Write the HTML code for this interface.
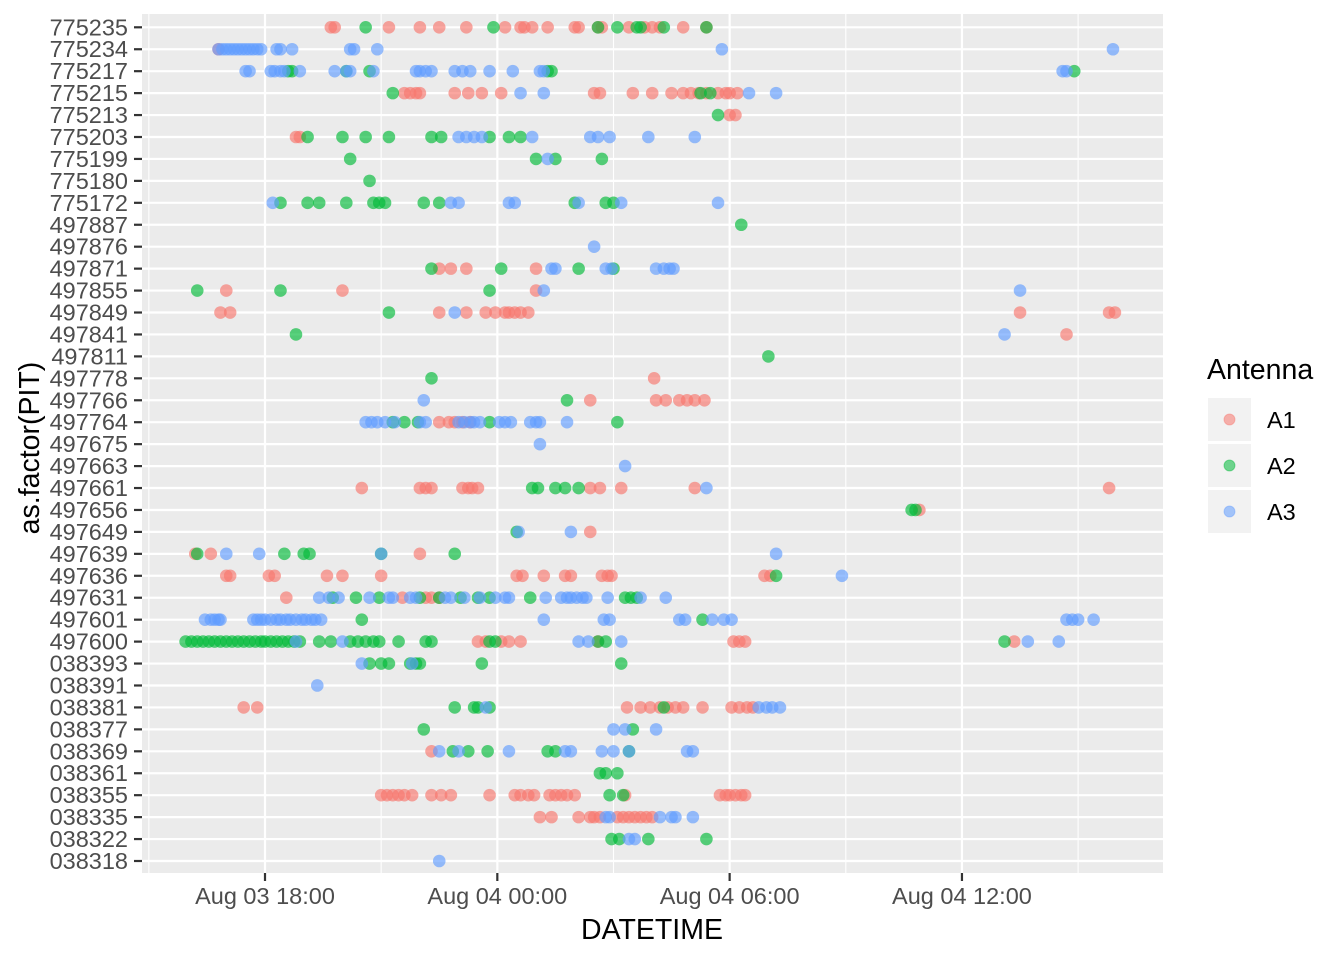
<!DOCTYPE html>
<html><head><meta charset="utf-8"><style>
html,body{margin:0;padding:0;background:#fff;}
svg{display:block;font-family:"Liberation Sans",Arial,sans-serif;}
</style></head><body>
<svg id="chart" width="1344" height="960" viewBox="0 0 1344 960" xmlns="http://www.w3.org/2000/svg">
<rect x="142" y="14" width="1021" height="859" fill="#EBEBEB"/>
<g id="grid"></g>
<g id="points"></g>
<g id="yaxis"></g>
<g id="xaxis"></g>
<text x="652" y="939" font-size="28.5" text-anchor="middle" fill="#000">DATETIME</text>
<text transform="translate(39,448) rotate(-90)" font-size="28.5" text-anchor="middle" fill="#000">as.factor(PIT)</text>
<g>
<text x="1207" y="379" font-size="28.5" fill="#000">Antenna</text>
<g><rect x="1208" y="398" width="43" height="43" fill="#F2F2F2"/><circle cx="1229.5" cy="419.5" r="5.5" fill="#F8766D" fill-opacity="0.55" stroke="#F8766D" stroke-opacity="0.4"/><text x="1267" y="428" font-size="23.5" fill="#000">A1</text></g>
<g><rect x="1208" y="444" width="43" height="43" fill="#F2F2F2"/><circle cx="1229.5" cy="465.5" r="5.5" fill="#00BA38" fill-opacity="0.55" stroke="#00BA38" stroke-opacity="0.4"/><text x="1267" y="474" font-size="23.5" fill="#000">A2</text></g>
<g><rect x="1208" y="490" width="43" height="43" fill="#F2F2F2"/><circle cx="1229.5" cy="511.5" r="5.5" fill="#619CFF" fill-opacity="0.55" stroke="#619CFF" stroke-opacity="0.4"/><text x="1267" y="520" font-size="23.5" fill="#000">A3</text></g>
</g>
</svg>
<script>
// Categories (top to bottom)
const pits = ["775235","775234","775217","775215","775213","775203","775199","775180","775172","497887","497876","497871","497855","497849","497841","497811","497778","497766","497764","497675","497663","497661","497656","497649","497639","497636","497631","497601","497600","038393","038391","038381","038377","038369","038361","038355","038335","038322","038318"];
// detection times: hours since Aug 03 18:00, per antenna, per PIT
const a1Times = {
"775235":[1.7,1.8,3.2,4.0,4.5,5.2,6.2,6.6,6.7,6.9,7.3,8.0,8.1,8.6,8.7,9.4,9.8,10.0,10.2,10.8,11.4],
"775234":[-1.2],
"775215":[3.6,3.75,3.9,4.0,4.9,5.25,5.6,6.1,8.5,8.65,9.5,10.0,10.5,10.8,11.0,11.2,11.4,11.7,11.9,12.0,12.2],
"775213":[12.0,12.15],
"775203":[0.8,0.9],
"497871":[4.5,4.8,5.2,7.0],
"497855":[-1.0,2.0,7.0],
"497849":[-1.15,-0.9,4.5,5.2,5.7,5.95,6.2,6.3,6.45,6.6,6.8,19.5,21.8,21.95],
"497841":[20.7],
"497778":[10.05],
"497766":[8.4,10.1,10.35,10.7,10.9,11.1,11.35],
"497764":[4.5,4.75,4.9,5.1,5.3],
"497661":[2.5,4.0,4.15,4.3,5.1,5.25,5.35,5.5,8.4,8.65,9.2,11.1,21.8],
"497656":[16.9],
"497649":[8.4],
"497639":[-1.8,-1.4,4.0],
"497636":[-1.0,-0.9,0.1,0.25,1.6,2.0,3.0,6.5,6.65,7.2,7.75,7.9,8.7,8.85,8.95,12.9,13.05],
"497631":[0.55,3.55,4.15,4.3,4.5],
"497600":[5.5,5.7,6.1,6.3,6.6,8.6,12.1,12.25,12.4,19.35],
"038381":[-0.55,-0.2,9.35,9.7,9.95,10.2,10.4,10.6,10.8,11.3,12.05,12.25,12.45,12.6],
"038369":[4.3],
"038355":[3.0,3.15,3.3,3.45,3.6,3.8,4.3,4.55,4.8,5.8,6.45,6.6,6.8,6.95,7.35,7.5,7.65,7.8,8.0,9.3,11.75,11.9,12.0,12.15,12.3,12.4],
"038335":[7.1,7.4,8.1,8.4,8.5,8.65,9.1,9.25,9.4,9.55,9.7,9.85,10.0]
};
const a2Times = {
"775235":[2.6,5.9,8.6,9.1,9.6,9.7,10.3,11.4],
"775217":[0.6,0.7,2.1,2.7,7.3,7.4,20.9],
"775215":[3.3,11.25,11.5],
"775213":[11.7],
"775203":[1.1,2.0,2.6,3.2,4.3,4.55,5.8,6.3,6.6],
"775199":[2.2,7.0,7.5,8.7],
"775180":[2.7],
"775172":[0.4,1.1,1.4,2.1,2.8,2.95,3.1,4.1,4.5,8.0,8.8,9.0],
"497887":[12.3],
"497871":[4.3,6.1,8.1,9.0],
"497855":[-1.75,0.4,5.8],
"497849":[3.2],
"497841":[0.8],
"497811":[13.0],
"497778":[4.3],
"497766":[7.8],
"497764":[3.3,3.6,3.95,5.8,9.1],
"497661":[6.9,7.05,7.5,7.75,8.1],
"497656":[16.7,16.8],
"497649":[6.5],
"497639":[-1.75,0.5,1.0,1.15,3.0,4.9],
"497636":[13.2],
"497631":[1.75,2.35,2.95,4.0,4.5,5.05,5.5,5.8,6.85,9.3,9.45,9.6],
"497601":[2.5,11.3],
"497600":[-2.05,-1.9,-1.75,-1.6,-1.45,-1.3,-1.15,-1.0,-0.85,-0.7,-0.55,-0.4,-0.25,-0.1,0.0,0.15,0.3,0.45,0.6,0.75,0.9,1.4,1.7,2.2,2.4,2.6,2.8,2.95,3.45,4.15,4.3,5.8,5.95,8.6,8.8,19.1],
"038393":[2.7,3.0,3.2,3.75,3.9,4.0,5.6,9.2],
"038381":[4.9,5.4,5.5,5.8,10.3],
"038377":[4.1,9.5],
"038369":[4.85,5.25,5.75,7.3,7.5,9.4],
"038361":[8.65,8.8,9.1],
"038355":[8.9,9.25],
"038322":[8.95,9.15,9.9,11.4]
};
const a3Times = {
"775234":[-1.2,-1.1,-1.0,-0.9,-0.8,-0.7,-0.6,-0.5,-0.4,-0.3,-0.2,-0.1,0.3,0.4,0.7,2.2,2.3,2.9,11.8,21.9],
"775217":[-0.5,-0.4,0.15,0.25,0.4,0.5,0.9,1.8,2.1,2.2,2.8,3.9,4.0,4.15,4.3,4.9,5.1,5.3,5.8,6.4,7.1,7.2,20.6,20.7],
"775215":[6.6,7.2,12.5,13.2],
"775203":[5.0,5.2,5.4,5.6,6.9,8.4,8.6,8.9,9.9,11.1],
"775199":[7.3],
"775172":[0.2,4.8,5.0,6.3,6.45,8.1,9.2,11.7],
"497876":[8.5],
"497871":[7.4,7.5,8.8,8.95,10.1,10.3,10.45,10.55],
"497855":[7.2,19.5],
"497849":[4.9],
"497841":[19.1],
"497766":[4.1],
"497764":[2.6,2.75,2.9,3.1,3.35,4.0,4.15,5.0,5.15,5.3,5.4,5.55,6.05,6.2,6.35,6.85,7.0,7.1,7.8],
"497675":[7.1],
"497663":[9.3],
"497661":[11.4],
"497649":[6.55,7.9],
"497639":[-1.0,-0.15,3.0,13.2],
"497636":[14.9],
"497631":[1.4,1.65,1.9,2.7,3.2,3.3,3.75,3.9,4.65,4.8,5.15,5.55,5.95,6.2,6.3,7.25,7.65,7.8,7.9,8.05,8.2,8.3,8.85,9.7,10.35],
"497601":[-1.55,-1.4,-1.3,-1.2,-1.15,-0.3,-0.2,-0.1,0.0,0.15,0.3,0.4,0.55,0.65,0.8,0.95,1.05,1.2,1.3,1.45,7.2,8.75,8.9,10.7,10.85,11.55,11.85,12.05,20.7,20.85,21.0,21.4],
"497600":[0.8,2.0,8.1,8.35,9.2,19.7,20.5],
"038393":[2.5,3.8],
"038391":[1.35],
"038381":[5.7,12.75,12.95,13.1,13.3],
"038377":[9.0,9.3,10.1],
"038369":[4.5,5.0,6.3,7.75,7.9,8.7,9.0,9.4,10.9,11.05],
"038335":[8.8,8.9,10.2,10.5,10.6,11.05],
"038322":[9.4,9.55],
"038318":[4.5]
};
const xTickHours = [0,6,12,18];
const xTickLabels = ["Aug 03 18:00","Aug 04 00:00","Aug 04 06:00","Aug 04 12:00"];
const xMinorHours = [-3,3,9,15,21];

const NS="http://www.w3.org/2000/svg";
const panel={l:142,r:1163,t:14,b:873};
function xScale(h){return 265+h*38.72;}
function yScale(i){return 27.3+i*(861-27.3)/(pits.length-1);}
function mk(tag,attrs,parent){const e=document.createElementNS(NS,tag);for(const k in attrs)e.setAttribute(k,attrs[k]);parent.appendChild(e);return e;}
const grid=document.getElementById('grid'),pts=document.getElementById('points'),ya=document.getElementById('yaxis'),xa=document.getElementById('xaxis');
xMinorHours.forEach(h=>{const x=xScale(h);if(x<panel.l||x>panel.r)return;
 const l=mk('line',{x1:x,x2:x,y1:panel.t,y2:panel.b,stroke:'#fff','stroke-width':1.1},grid);
 
 });
pits.forEach((p,i)=>{const y=yScale(i);
 const l=mk('line',{x1:panel.l,x2:panel.r,y1:y,y2:y,stroke:'#fff','stroke-width':2.2},grid);
 
 
 const t=mk('line',{x1:134,x2:142,y1:y,y2:y,stroke:'#333','stroke-width':2.2},ya);
 
 
 const tx=mk('text',{x:128,y:y+8,'font-size':23.5,'text-anchor':'end',fill:'#4D4D4D'},ya);
 tx.textContent=p;
 
 });
xTickHours.forEach((h,i)=>{const x=xScale(h);
 const l=mk('line',{x1:x,x2:x,y1:panel.t,y2:panel.b,stroke:'#fff','stroke-width':2.2},grid);
 
 
 const t=mk('line',{x1:x,x2:x,y1:873,y2:881,stroke:'#333','stroke-width':2.2},xa);
 
 
 const tx=mk('text',{x:x,y:904,'font-size':23.5,'text-anchor':'middle',fill:'#4D4D4D'},xa);
 tx.textContent=xTickLabels[i];
 
 });
[[a1Times,'#F8766D','a1'],[a2Times,'#00BA38','a2'],[a3Times,'#619CFF','a3']].forEach(([d,c,n])=>{
 pits.forEach((p,i)=>{(d[p]||[]).forEach(h=>{
  const ci=mk('circle',{cx:xScale(h),cy:yScale(i),r:6.3,fill:c,'fill-opacity':0.65},pts);
  
  });});});
</script>
</body></html>
